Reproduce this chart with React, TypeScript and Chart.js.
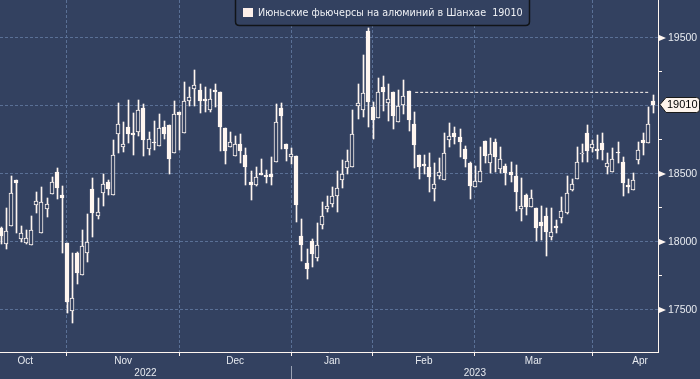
import React, { useEffect, useRef } from 'react';
import { Chart, registerables } from 'chart.js';

Chart.register(...registerables);

const seriesName = 'Июньские фьючерсы на алюминий в Шанхае';

const opens = [
  18103, 17984, 18120, 18456, 18024, 17995, 17976, 18274, 18064, 18245, 18355, 18515, 18346,
  17995, 17495, 17917, 17757, 17921, 18387, 18193, 18362, 18441, 18348, 18796, 18701, 18843,
  18801, 18811, 18985, 18686, 18735, 18708, 18843, 18858, 18657,
  18956, 18804, 19039, 19127, 19118, 19049, 18971, 19118, 19103, 18838, 18701, 18635, 18721,
  18637, 18441, 18417, 18507, 18493, 18500, 18590, 18985, 18721,
  18627, 18632, 18044, 17843, 18007, 17885, 18127, 18245, 18277, 18340, 18454, 18546, 18554,
  19002, 18973, 19551,
  18990, 18914, 19140, 19020, 19103, 18885, 19005, 19108, 18868, 18640, 18574, 18551, 18387,
  18483, 18458, 18748, 18799, 18772, 18682, 18579,
  18402, 18441, 18745, 18581, 18735, 18539, 18559, 18515, 18485, 18245, 18343, 18260, 18250,
  18147, 18191, 18039, 18120, 18179, 18215, 18382, 18465, 18649, 18799,
  18693, 18684, 18726, 18549, 18512, 18657, 18588, 18417, 18385, 18603, 18750, 18726, 19037,
];
const highs = [
  18110, 18250, 18485, 18456, 18118, 18088, 18191, 18368, 18402, 18324, 18476, 18544, 18412,
  17995, 17917, 17926, 18088, 18206, 18471, 18324, 18500, 18456, 18750, 19022, 18882, 19044,
  18946, 19044, 19015, 18809, 18888, 18941, 18892, 18858, 19034,
  18956, 19176, 19137, 19265, 19162, 19137, 19123, 19162, 19103, 18838, 18809, 18779, 18794,
  18691, 18520, 18549, 18613, 18529, 18623, 19015, 19024, 18721,
  18691, 18632, 18167, 17946, 18020, 18137, 18294, 18338, 18407, 18522, 18603, 18676, 18971,
  19162, 19375, 19574,
  19032, 19206, 19221, 19162, 19103, 19118, 19191, 19108, 18956, 18640, 18640, 18654, 18579,
  18618, 18799, 18873, 18843, 18831, 18706, 18588,
  18561, 18701, 18745, 18765, 18755, 18701, 18574, 18588, 18564, 18471, 18353, 18382, 18250,
  18265, 18250, 18250, 18162, 18333, 18485, 18461, 18701, 18721, 18858,
  18750, 18784, 18801, 18652, 18689, 18735, 18623, 18461, 18505, 18735, 18804, 18990, 19081,
];
const lows = [
  17985, 17951, 18118, 18068, 18002, 17985, 17976, 18215, 18064, 18186, 18355, 18318, 17921,
  17476, 17402, 17689, 17757, 17853, 18039, 18171, 18265, 18348, 18348, 18652, 18662, 18730,
  18637, 18779, 18632, 18642, 18676, 18708, 18755, 18500, 18657,
  18676, 18804, 19000, 19000, 18951, 18958, 18958, 18990, 18671, 18576, 18701, 18635, 18583,
  18421, 18309, 18412, 18495, 18436, 18421, 18590, 18686, 18598,
  18574, 18147, 17863, 17730, 17814, 17863, 18098, 18221, 18260, 18223, 18395, 18500, 18554,
  18907, 18921, 18848,
  18760, 18914, 18965, 18892, 18833, 18885, 18941, 18818, 18546, 18461, 18500, 18370, 18304,
  18465, 18458, 18696, 18721, 18627, 18554, 18318,
  18402, 18441, 18579, 18510, 18517, 18505, 18421, 18441, 18230, 18157, 18201, 18260, 18005,
  18015, 17897, 18015, 18064, 18142, 18206, 18373, 18465, 18588, 18588,
  18662, 18610, 18603, 18500, 18512, 18579, 18338, 18363, 18385, 18574, 18640, 18726, 18946,
];
const closes = [
  18044, 18079, 18358, 18432, 18064, 18029, 18088, 18299, 18294, 18279, 18441, 18399, 18326,
  17561, 17588, 17774, 17971, 17998, 18215, 18218, 18424, 18392, 18637, 18868, 18721, 18796,
  18789, 18971, 18750, 18755, 18730, 18836, 18796, 18613, 18941,
  18936, 19039, 19064, 19152, 19039, 19039, 19049, 19105, 18848, 18671, 18733, 18721, 18671,
  18554, 18421, 18476, 18495, 18480, 18480, 18882, 18926, 18684,
  18647, 18274, 17980, 17801, 17912, 17976, 18191, 18265, 18338, 18395, 18500, 18596, 18792,
  19020, 19096, 19032,
  18899, 19103, 19105, 19051, 18926, 18998, 19074, 18899, 18713, 18554, 18559, 18480, 18426,
  18512, 18652, 18779, 18774, 18733, 18608, 18414,
  18451, 18524, 18630, 18649, 18627, 18608, 18505, 18495, 18370, 18265, 18260, 18324, 18105,
  18120, 18074, 18071, 18105, 18228, 18358, 18424, 18588, 18657, 18671,
  18718, 18671, 18679, 18579, 18608, 18652, 18436, 18407, 18456, 18674, 18730, 18868, 19010,
];

// first trading session of each month (index into the series)
const monthBoundaries = [13, 35, 57, 73, 93, 116];
const monthLabels = ['Oct', 'Nov', 'Dec', 'Jan', 'Feb', 'Mar', 'Apr'];
const monthLabelAt = [4.8, 24, 46, 65, 83, 104.5, 125.4];
const yearLabels = ['2022', '2023'];
const yearLabelAt = [28.4, 93];
const yearBoundary = 57;

const resistanceLevel = 19100;
const resistanceFrom = 81.3;
const resistanceTo = 127.2;

const yTicks = [17500, 17750, 18000, 18250, 18500, 18750, 19000, 19250, 19500];
const yGridded = [17500, 18000, 18500, 19000, 19500];
const yLabeled = [17500, 18000, 18500, 19500];

const X_MIN = -0.14;
const X_MAX = 128.93;
const Y_MIN = 17191;
const Y_MAX = 19779;

const BG = '#334160';
const GRID = '#5a7096';
const WHITE = '#fff6f0';
const TEXT = '#e8ebf0';
const FONT = '"Liberation Sans", Arial, sans-serif';
const LEGEND_FONT = '"DejaVu Sans", Verdana, sans-serif';

const zeroPad = (s: any) => {
  s.paddingTop = 0;
  s.paddingBottom = 0;
  s.paddingLeft = 0;
  s.paddingRight = 0;
};

export default function App() {
  const ref = useRef<HTMLCanvasElement | null>(null);

  useEffect(() => {
    if (!ref.current) return;
    const idx = opens.map((_, i) => i);
    const bodies = idx.map((i) => ({ x: i, y: [opens[i], closes[i]] }));
    const wicks = idx.map((i) => ({ x: i, y: [lows[i], highs[i]] }));
    const isUp = (i: number) => closes[i] >= opens[i];
    const last = closes[closes.length - 1];

    const snap = {
      id: 'snap',
      afterDatasetsUpdate(chart: any) {
        [1, 2].forEach((di) => {
          const meta = chart.getDatasetMeta(di);
          meta.data.forEach((el: any) => {
            const cx = Math.round(el.x);
            el.x = di === 1 ? cx : cx + 0.5;
            el.y = Math.round(el.y);
            el.base = Math.round(el.base);
            if (el.height !== undefined) el.height = el.base - el.y;
          });
        });
      },
    };

    const overlay = {
      id: 'overlay',
      beforeDraw(chart: any) {
        const { ctx, width, height } = chart;
        ctx.save();
        ctx.fillStyle = BG;
        ctx.fillRect(0, 0, width, height);
        ctx.restore();
      },
      afterDraw(chart: any) {
        const { ctx } = chart;
        const ys = chart.scales.y;
        const xy = chart.scales.xYear;
        ctx.save();
        // year separator
        const sx = Math.round(xy.getPixelForValue(yearBoundary)) + 0.5;
        ctx.strokeStyle = '#9aa2b4';
        ctx.lineWidth = 1;
        ctx.beginPath();
        ctx.moveTo(sx, xy.top);
        ctx.lineTo(sx, xy.bottom);
        ctx.stroke();

        // triangles on labelled ticks
        const ax = ys.left;
        ctx.fillStyle = WHITE;
        yLabeled.forEach((v) => {
          const y = ys.getPixelForValue(v);
          ctx.beginPath();
          ctx.moveTo(ax + 1, y - 3);
          ctx.lineTo(ax + 8, y);
          ctx.lineTo(ax + 1, y + 3);
          ctx.closePath();
          ctx.fill();
        });

        // price tag
        const py = ys.getPixelForValue(last);
        const l = ax + 2;
        const r = 699.5;
        const t = Math.round(py) - 7.5;
        const b = Math.round(py) + 7.5;
        const rad = 3;
        ctx.beginPath();
        ctx.moveTo(l, py);
        ctx.lineTo(l + 6, t);
        ctx.lineTo(r - rad, t);
        ctx.quadraticCurveTo(r, t, r, t + rad);
        ctx.lineTo(r, b - rad);
        ctx.quadraticCurveTo(r, b, r - rad, b);
        ctx.lineTo(l + 6, b);
        ctx.closePath();
        ctx.fillStyle = '#fdf3ec';
        ctx.fill();
        ctx.strokeStyle = '#1a1a1a';
        ctx.lineWidth = 1;
        ctx.stroke();
        ctx.fillStyle = '#000000';
        ctx.font = `11px ${FONT}`;
        ctx.textBaseline = 'middle';
        ctx.textAlign = 'left';
        ctx.fillText(String(last), l + 7, py + 0.5);

        // legend box
        const lx0 = 235.5;
        const lx1 = 529.5;
        const ly1 = 25.5;
        const lr = 4;
        ctx.beginPath();
        ctx.moveTo(lx0, -2);
        ctx.lineTo(lx0, ly1 - lr);
        ctx.quadraticCurveTo(lx0, ly1, lx0 + lr, ly1);
        ctx.lineTo(lx1 - lr, ly1);
        ctx.quadraticCurveTo(lx1, ly1, lx1, ly1 - lr);
        ctx.lineTo(lx1, -2);
        ctx.closePath();
        ctx.fillStyle = BG;
        ctx.fill();
        ctx.strokeStyle = '#111418';
        ctx.lineWidth = 1.5;
        ctx.stroke();
        ctx.fillStyle = '#fdf0ea';
        ctx.fillRect(243, 8, 10, 9);
        ctx.fillStyle = '#eef0f4';
        ctx.font = `9.6px ${LEGEND_FONT}`;
        ctx.textBaseline = 'middle';
        ctx.fillText(`${seriesName}  ${last}`, 258, 13);
        ctx.restore();
      },
    };

    const chart = new Chart(ref.current, {
      type: 'bar',
      data: {
        datasets: [
          {
            type: 'line',
            data: [
              { x: resistanceFrom, y: resistanceLevel },
              { x: resistanceTo, y: resistanceLevel },
            ],
            borderColor: WHITE,
            borderWidth: 1,
            borderDash: [3, 2],
            pointRadius: 0,
            order: -1,
          } as any,
          {
            type: 'bar',
            data: bodies as any,
            order: 0,
            grouped: false,
            barThickness: 4,
            minBarLength: 1,
            backgroundColor: (c: any) => (isUp(c.dataIndex) ? BG : WHITE),
            borderColor: WHITE,
            borderWidth: 1,
            borderSkipped: false,
          } as any,
          {
            type: 'bar',
            data: wicks as any,
            order: 1,
            grouped: false,
            barThickness: 1,
            backgroundColor: WHITE,
            borderWidth: 0,
          } as any,
        ],
      },
      options: {
        animation: false,
        responsive: false,
        maintainAspectRatio: false,
        layout: { padding: 0 },
        font: { family: FONT },
        plugins: { legend: { display: false }, tooltip: { enabled: false } },
        scales: {
          x: {
            type: 'linear',
            position: 'bottom',
            min: X_MIN,
            max: X_MAX,
            offset: false,
            weight: 0,
            afterBuildTicks: (s: any) => {
              s.ticks = [...monthBoundaries, ...monthLabelAt]
                .sort((a, b) => a - b)
                .map((v) => ({ value: v }));
            },
            afterFit: (s: any) => {
              s.height = 14;
              zeroPad(s);
            },
            grid: {
              offset: false,
              color: (c: any) => (monthBoundaries.includes(c.tick?.value) ? GRID : 'rgba(0,0,0,0)'),
              tickColor: (c: any) => (monthBoundaries.includes(c.tick?.value) ? WHITE : 'rgba(0,0,0,0)'),
              tickLength: 4,
              lineWidth: 1,
            },
            border: { color: WHITE, width: 1, dash: [3, 2] },
            ticks: {
              autoSkip: false,
              maxRotation: 0,
              padding: -1,
              color: TEXT,
              font: { size: 10, family: FONT },
              callback: (v: any) => {
                const k = monthLabelAt.indexOf(Number(v));
                return k >= 0 ? monthLabels[k] : '';
              },
            },
          },
          xYear: {
            type: 'linear',
            position: 'bottom',
            min: X_MIN,
            max: X_MAX,
            offset: false,
            weight: 1,
            afterBuildTicks: (s: any) => {
              s.ticks = yearLabelAt.map((v) => ({ value: v }));
            },
            afterFit: (s: any) => {
              s.height = 13;
              zeroPad(s);
            },
            grid: { display: false, drawTicks: false },
            border: { display: false },
            ticks: {
              autoSkip: false,
              maxRotation: 0,
              padding: 1,
              color: TEXT,
              font: { size: 10, family: FONT },
              callback: (v: any) => {
                const k = yearLabelAt.indexOf(Number(v));
                return k >= 0 ? yearLabels[k] : '';
              },
            },
          },
          y: {
            type: 'linear',
            position: 'right',
            min: Y_MIN,
            max: Y_MAX,
            afterBuildTicks: (s: any) => {
              s.ticks = yTicks.map((v) => ({ value: v }));
            },
            afterFit: (s: any) => {
              s.width = 42;
              zeroPad(s);
            },
            grid: {
              color: (c: any) => (yGridded.includes(c.tick?.value) ? GRID : 'rgba(0,0,0,0)'),
              tickColor: (c: any) => (yGridded.includes(c.tick?.value) ? 'rgba(0,0,0,0)' : WHITE),
              tickLength: 4,
              lineWidth: 1,
            },
            border: { color: WHITE, width: 1, dash: [3, 2] },
            ticks: {
              padding: 6,
              color: TEXT,
              font: { size: 10.5, family: FONT },
              callback: (v: any) => (yLabeled.includes(Number(v)) ? String(v) : ''),
            },
          },
        } as any,
      },
      plugins: [snap, overlay],
    });
    return () => chart.destroy();
  }, []);

  return (
    <div style={{ position: 'absolute', left: 0, top: 0, width: 700, height: 379 }}>
      <canvas ref={ref} width={700} height={379} style={{ display: 'block' }} />
    </div>
  );
}
